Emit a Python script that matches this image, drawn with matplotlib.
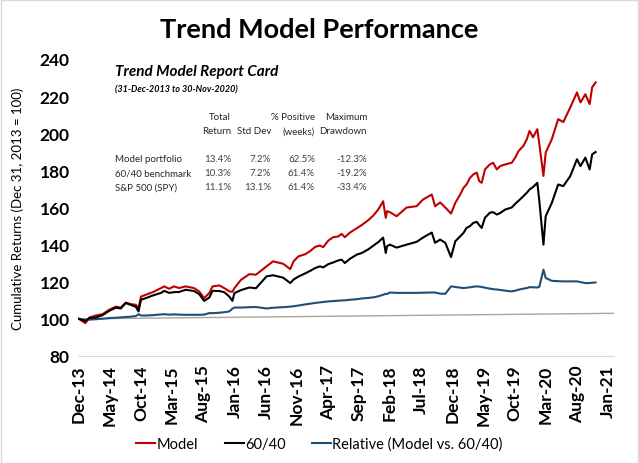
import pandas as pd
import matplotlib
matplotlib.use("Agg")
import matplotlib.pyplot as plt
from matplotlib.patches import Rectangle

plt.rcParams["font.family"] = ["Lato", "DejaVu Sans"]

# points (31-Dec-2013 = 100), one row per year
dates = [
    "2013-12-31",
    "2014-01-31", "2014-02-20", "2014-03-22", "2014-04-25", "2014-05-27", "2014-06-29", "2014-07-23",
    "2014-08-17", "2014-09-11", "2014-10-05", "2014-10-18", "2014-10-30", "2014-11-23", "2014-12-27",
    "2015-02-05", "2015-02-21", "2015-03-16", "2015-04-10", "2015-05-04", "2015-06-06", "2015-07-16",
    "2015-08-10", "2015-09-04", "2015-09-29", "2015-10-15", "2015-11-17", "2015-12-11",
    "2016-01-05", "2016-01-20", "2016-01-30", "2016-03-02", "2016-04-12", "2016-05-14", "2016-07-05",
    "2016-08-06", "2016-09-24", "2016-10-29", "2016-11-14", "2016-12-08",
    "2017-01-10", "2017-02-04", "2017-02-28", "2017-03-23", "2017-04-08", "2017-05-03", "2017-05-27",
    "2017-06-21", "2017-07-07", "2017-07-23", "2017-08-17", "2017-09-19", "2017-10-14", "2017-11-15",
    "2017-12-10",
    "2018-01-04", "2018-01-26", "2018-02-08", "2018-02-14", "2018-02-28", "2018-04-02", "2018-05-21",
    "2018-07-09", "2018-08-09", "2018-09-21", "2018-10-07", "2018-11-01", "2018-11-26", "2018-12-24",
    "2019-01-14", "2019-02-07", "2019-02-23", "2019-03-10", "2019-03-27", "2019-04-12", "2019-04-29",
    "2019-05-11", "2019-05-23", "2019-06-08", "2019-07-02", "2019-07-18", "2019-08-05", "2019-08-21",
    "2019-09-15", "2019-10-17", "2019-11-03", "2019-11-19", "2019-12-13", "2019-12-30",
    "2020-01-12", "2020-01-29", "2020-02-19", "2020-02-29", "2020-03-20", "2020-03-31", "2020-04-30",
    "2020-05-31", "2020-06-25", "2020-07-29", "2020-08-31", "2020-09-17", "2020-10-11", "2020-11-01",
    "2020-11-13", "2020-11-30",
]
model = [
    100.0,
    97.7, 100.7, 101.8, 102.5, 104.9, 106.6, 106.1, 108.8, 107.9, 107.6, 105.8, 112.0, 113.0, 114.4,
    116.6, 117.5, 116.2, 117.5, 116.6, 117.5, 116.6, 114.8, 111.2, 113.9, 117.5, 118.0, 116.6,
    114.8, 114.6, 116.6, 121.0, 124.1, 123.8, 128.3, 131.0, 129.7, 126.8, 131.0, 133.7,
    134.8, 136.6, 138.8, 139.5, 138.6, 142.2, 144.0, 144.4, 145.8, 144.0, 146.5, 148.8, 150.6, 153.2, 155.8,
    159.2, 163.4, 154.4, 158.0, 157.5, 155.3, 160.0, 160.7, 164.3, 167.0, 160.7, 162.7, 160.0, 156.7,
    162.5, 167.0, 170.6, 172.4, 176.0, 177.8, 178.8, 174.2, 173.3, 180.5, 183.2, 184.1, 180.5, 182.3,
    183.2, 184.1, 186.9, 190.4, 193.2, 196.8,
    201.3, 197.8, 202.2, 194.0, 177.0, 189.6, 196.8, 207.6, 206.0, 213.9, 222.0, 216.6, 221.0, 215.7,
    224.7, 227.4,
]
bench_6040 = [
    100.0,
    98.8, 100.5, 100.7, 102.0, 104.3, 106.0, 105.6, 108.5, 107.5, 106.5, 104.0, 110.3, 111.2, 112.6,
    114.0, 115.1, 114.0, 114.4, 114.5, 115.7, 115.0, 113.4, 109.7, 111.5, 115.1, 115.0, 114.4,
    112.0, 109.7, 113.9, 115.5, 116.9, 116.5, 122.9, 123.5, 122.2, 119.3, 121.2, 122.8,
    124.5, 125.9, 127.4, 128.3, 127.7, 129.5, 130.4, 131.5, 131.9, 130.1, 132.4, 134.6, 135.5, 137.5, 139.5,
    141.5, 143.8, 135.5, 139.1, 140.0, 138.4, 140.0, 141.5, 143.8, 146.5, 141.0, 142.7, 141.0, 133.3,
    141.8, 144.5, 146.3, 149.0, 150.0, 151.7, 152.3, 150.5, 149.0, 154.5, 157.2, 157.5, 156.2, 157.0,
    158.9, 160.0, 162.0, 163.6, 166.1, 168.0,
    169.7, 171.0, 173.3, 163.4, 140.0, 155.3, 162.5, 172.4, 171.5, 176.9, 186.0, 182.3, 186.9, 180.5,
    188.6, 189.9,
]
relative = [
    100.0,
    99.5, 99.6, 99.8, 100.1, 100.4, 100.6, 100.8, 101.0, 101.2, 101.5, 102.5, 101.8, 101.8, 102.0,
    102.4, 102.5, 102.3, 102.4, 102.3, 102.2, 102.2, 102.2, 102.3, 103.1, 103.1, 103.3, 103.6,
    104.0, 105.5, 106.1, 106.1, 106.3, 106.4, 105.6, 106.0, 106.3, 106.6, 106.8, 107.2,
    107.8, 108.2, 108.6, 108.9, 109.1, 109.4, 109.6, 109.8, 109.9, 110.0, 110.3, 110.6, 111.0, 111.3, 111.6,
    112.2, 113.0, 113.5, 113.4, 114.2, 114.0, 114.0, 114.0, 114.1, 114.2, 114.2, 113.6, 113.5, 117.5,
    117.2, 116.8, 116.6, 116.8, 117.0, 117.3, 117.5, 117.4, 117.2, 116.8, 116.3, 116.0, 115.8, 115.6,
    115.2, 114.8, 115.2, 115.7, 116.3, 116.6,
    117.1, 117.0, 116.9, 117.3, 126.5, 122.0, 120.5, 120.3, 120.2, 120.2, 120.2, 119.8, 119.3, 119.3,
    119.5, 119.6,
]
assert len(dates) == len(model) == len(bench_6040) == len(relative)

# thin grey reference line drawn across the plot
ref_dates = ["2013-12-31", "2021-02-28"]
ref_values = [100.0, 103.0]

tick_dates = ["2013-12-31", "2014-05-31", "2014-10-31", "2015-03-31", "2015-08-31",
              "2016-01-31", "2016-06-30", "2016-11-30", "2017-04-30", "2017-09-30",
              "2018-02-28", "2018-07-31", "2018-12-31", "2019-05-31", "2019-10-31",
              "2020-03-31", "2020-08-31", "2021-01-31"]
tick_labels = ["Dec-13", "May-14", "Oct-14", "Mar-15", "Aug-15", "Jan-16", "Jun-16",
               "Nov-16", "Apr-17", "Sep-17", "Feb-18", "Jul-18", "Dec-18", "May-19",
               "Oct-19", "Mar-20", "Aug-20", "Jan-21"]

# report card table
rc_rows = ["Model portfolio", "60/40 benchmark", "S&P 500 (SPY)"]
rc_headers = [("Total", "Return"), ("", "Std Dev"), ("% Positive", "(weeks)"), ("Maximum", "Drawdown")]
rc_values = [
    ["13.4%", "7.2%", "62.5%", "-12.3%"],
    ["10.3%", "7.2%", "61.4%", "-19.2%"],
    ["11.1%", "13.1%", "61.4%", "-33.4%"],
]

W, H = 639, 464
fig = plt.figure(figsize=(W / 100, H / 100), dpi=100)
ax = fig.add_axes([78 / W, 1 - 357 / H, (614 - 78) / W, (357 - 60) / H])

d = pd.to_datetime(dates)
ax.plot(pd.to_datetime(ref_dates), ref_values, color="#A6A6A6", lw=1.0, zorder=1)
ax.plot(d, model, color="#C00000", lw=1.5, label="Model", zorder=3)
ax.plot(d, bench_6040, color="black", lw=1.5, label="60/40", zorder=3)
ax.plot(d, relative, color="#1F4E79", lw=1.5, label="Relative (Model vs. 60/40)", zorder=2)

ax.set_ylim(80, 240)
ax.set_yticks(range(80, 241, 20))
ax.set_xlim(pd.Timestamp("2013-12-26"), pd.Timestamp("2021-02-28"))
ax.set_xticks(pd.to_datetime(tick_dates))
ax.set_xticklabels(tick_labels, rotation=90)
for lbl in ax.get_xticklabels() + ax.get_yticklabels():
    lbl.set_fontweight("bold")
    lbl.set_fontsize(12.5)
ax.tick_params(length=0, pad=6)
for s in ["top", "right", "left"]:
    ax.spines[s].set_visible(False)
ax.spines["bottom"].set_color("#D9D9D9")
ax.set_ylabel("Cumulative Returns (Dec 31, 2013 = 100)", fontsize=9.5)
ax.yaxis.set_label_coords(-0.1, 0.5)

fig.text(0.5, 1 - 30 / H, "Trend Model Performance", ha="center", va="center",
         fontsize=19.5, fontweight="bold")

def px(x, y):
    return x / W, 1 - y / H

fig.text(*px(115, 72), "Trend Model Report Card", fontsize=11, fontweight="bold",
         style="italic", va="center")
fig.text(*px(115, 90), "(31-Dec-2013 to 30-Nov-2020)", fontsize=6.5, fontweight="bold",
         style="italic", va="center")

col_right = [231, 271, 315, 367]
for (top, bottom), xr in zip(rc_headers, col_right):
    fig.text(*px(xr, 118), top, fontsize=7, ha="right", va="center", color="#262626")
    fig.text(*px(xr, 132), bottom, fontsize=7, ha="right", va="center", color="#262626")
row_y = [160, 174, 188]
for name, vals, yy in zip(rc_rows, rc_values, row_y):
    fig.text(*px(115, yy), name, fontsize=7, va="center", color="#262626")
    for v, xr in zip(vals, col_right):
        fig.text(*px(xr, yy), v, fontsize=7, ha="right", va="center", color="#404040")

fig.legend(*ax.get_legend_handles_labels(), loc="center", ncol=3,
           bbox_to_anchor=(0.5, 1 - 445 / H), frameon=False, fontsize=10.5,
           handlelength=1.3, handletextpad=0.1, columnspacing=1.8)

fig.add_artist(Rectangle((0.001, 0.001), 0.997, 0.997, transform=fig.transFigure,
                         fill=False, edgecolor="#D9D9D9", lw=1))

fig.savefig("out.png", dpi=100)
